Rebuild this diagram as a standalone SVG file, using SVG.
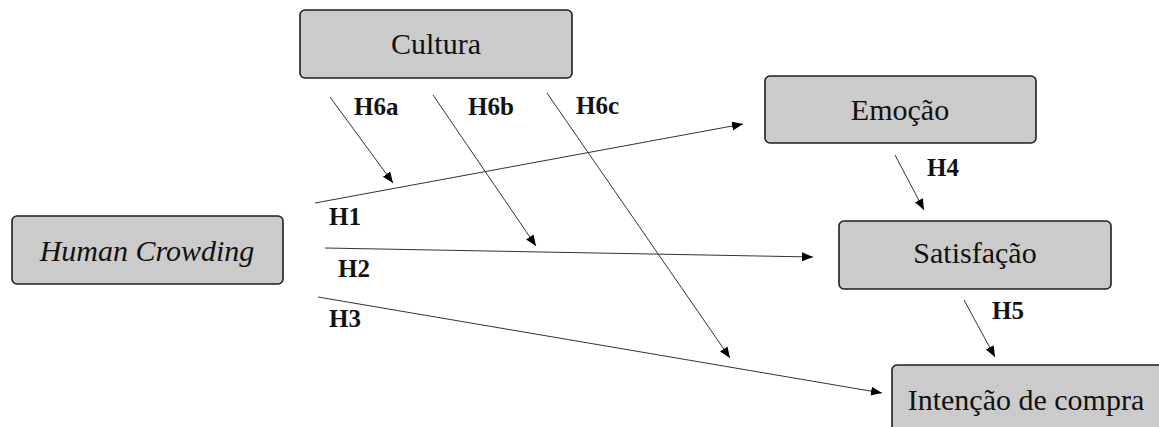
<svg xmlns="http://www.w3.org/2000/svg" width="1159" height="427" viewBox="0 0 1159 427">
  <style>
    .box { fill: #cbcbcb; stroke: #1e1e1e; stroke-width: 1.6; }
    .node-text { font-size: 30px; fill: #111; text-anchor: middle; }
    .lbl { font-size: 25px; font-weight: bold; fill: #111; }
    .conn { stroke: #333; stroke-width: 1; fill: none; marker-end: url(#arrow); }
  </style>
  <defs>
    <marker id="arrow" markerUnits="userSpaceOnUse" markerWidth="12" markerHeight="10" refX="11" refY="4.5" orient="auto">
      <path d="M0,0 L11,4.5 L0,9 z" fill="#000"/>
    </marker>
  </defs>
  <rect width="1159" height="427" fill="#fff"/>

  <g id="connectors">
    <line class="conn" x1="315" y1="203" x2="743" y2="124"/>
    <line class="conn" x1="325" y1="248" x2="813" y2="257"/>
    <line class="conn" x1="318" y1="297" x2="882" y2="393"/>
    <line class="conn" x1="895" y1="155" x2="924" y2="210"/>
    <line class="conn" x1="964" y1="300" x2="995" y2="357"/>
    <line class="conn" x1="330" y1="97" x2="393" y2="183"/>
    <line class="conn" x1="433" y1="95" x2="536" y2="246"/>
    <line class="conn" x1="547" y1="93" x2="730" y2="358"/>
  </g>

  <g id="labels" font-family="'Liberation Serif', 'DejaVu Serif', serif">
    <text class="lbl" x="354" y="115">H6a</text>
    <text class="lbl" x="468" y="115">H6b</text>
    <text class="lbl" x="576" y="114">H6c</text>
    <text class="lbl" x="329" y="225">H1</text>
    <text class="lbl" x="338" y="277">H2</text>
    <text class="lbl" x="329" y="327">H3</text>
    <text class="lbl" x="927" y="176">H4</text>
    <text class="lbl" x="992" y="319">H5</text>
  </g>

  <g id="node-cultura" font-family="'Liberation Serif', 'DejaVu Serif', serif">
    <rect class="box" x="300" y="10" width="272" height="68" rx="5"/>
    <text class="node-text" x="436" y="54">Cultura</text>
  </g>
  <g id="node-emocao" font-family="'Liberation Serif', 'DejaVu Serif', serif">
    <rect class="box" x="765" y="76" width="271" height="67" rx="5"/>
    <text class="node-text" x="900" y="120">Emoção</text>
  </g>
  <g id="node-human-crowding" font-family="'Liberation Serif', 'DejaVu Serif', serif">
    <rect class="box" x="12" y="216" width="271" height="68" rx="5"/>
    <text class="node-text" x="147" y="261" font-style="italic">Human Crowding</text>
  </g>
  <g id="node-satisfacao" font-family="'Liberation Serif', 'DejaVu Serif', serif">
    <rect class="box" x="839" y="221" width="272" height="68" rx="5"/>
    <text class="node-text" x="975" y="263">Satisfação</text>
  </g>
  <g id="node-intencao" font-family="'Liberation Serif', 'DejaVu Serif', serif">
    <rect class="box" x="892" y="365" width="300" height="100" rx="5"/>
    <text class="node-text" x="1026" y="410">Intenção de compra</text>
  </g>
</svg>
